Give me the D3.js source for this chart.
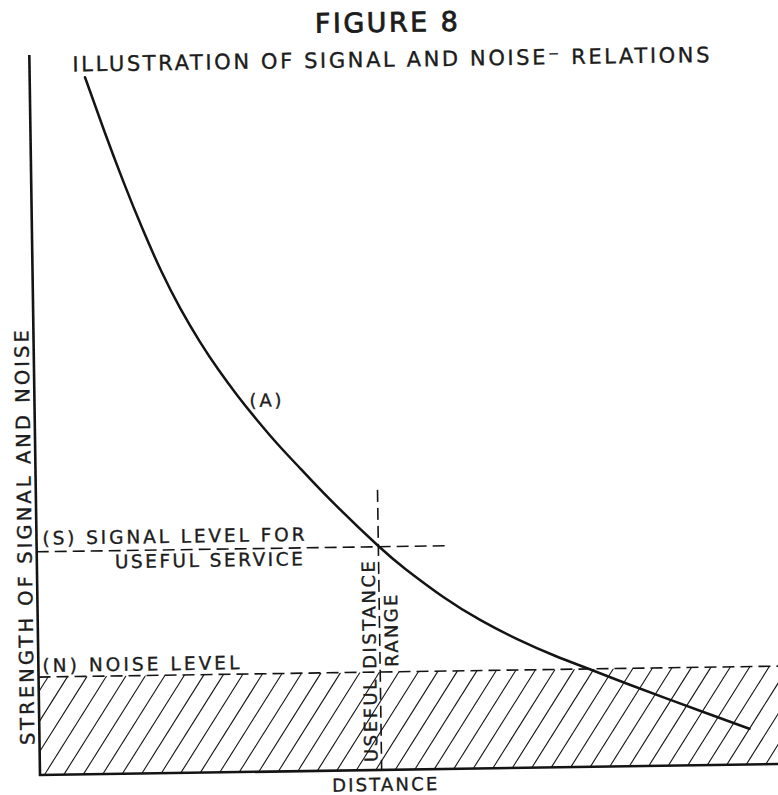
<!DOCTYPE html>
<html>
<head>
<meta charset="utf-8">
<script src="https://cdn.jsdelivr.net/npm/d3@7/dist/d3.min.js"></script>
<style>
  html, body { margin: 0; padding: 0; background: #fff; }
  svg { display: block; }
  text { font-family: "DejaVu Sans", sans-serif; fill: #1c1c1c; stroke: #1c1c1c; stroke-width: 0.35; }
</style>
</head>
<body>
<script>
// Signal strength (curve A) against distance, in arbitrary units 0..100
const distance = [7.5, 10, 12.5, 15, 17.5, 20, 22.5, 25, 27.5, 30, 33, 36, 40, 46.3, 50, 55, 60, 65, 70, 74.7, 80, 85, 90, 96.2];
const strength = [96.8, 89.3, 82.2, 75.6, 69.6, 64.4, 59.9, 55.9, 52.3, 49.0, 45.3, 41.9, 37.5, 31.1, 27.8, 23.9, 20.6, 17.85, 15.5, 13.55, 11.35, 9.35, 7.38, 4.96];

// Reference levels
const noiseLevel = 13.6;        // (N) noise level
const serviceLevel = 31.0;      // (S) signal level for useful service
const usefulRange = 46.3;       // distance where curve A meets level S
const serviceLineEnd = 56.0;    // dashed S line runs a little past the crossing
const rangeLineTop = 38.9;      // top of the vertical range marker

const W = 778, H = 795;
const svg = d3.select("body").append("svg").attr("width", W).attr("height", H);

const x = d3.scaleLinear().domain([0, 100]).range([40, 778]);
const y = d3.scaleLinear().domain([0, 100]).range([775, 55]);

// the whole drawing sits slightly tilted on the page
const g = svg.append("g").attr("transform", "rotate(-0.85, 40, 775)");

const ink = "#141414";

// hatched region below the noise level
const clipId = "noiseClip";
g.append("clipPath").attr("id", clipId)
  .append("rect")
  .attr("x", x(0)).attr("y", y(noiseLevel))
  .attr("width", x(100) - x(0) + 20).attr("height", y(0) - y(noiseLevel));

const hatchStep = 19.5, hatchRise = y(0) - y(noiseLevel), hatchRun = hatchRise * 0.65;
const hatchStarts = d3.range(x(0) - hatchRun - 10, x(100) + 30, hatchStep);
g.append("g").attr("clip-path", `url(#${clipId})`)
  .selectAll("line").data(hatchStarts).join("line")
  .attr("x1", d => d).attr("y1", y(0))
  .attr("x2", d => d + hatchRun).attr("y2", y(noiseLevel))
  .attr("stroke", ink).attr("stroke-width", 1.1);

// dashed reference lines
const dash = "12,6";
g.append("line")
  .attr("x1", x(0)).attr("x2", x(100) + 10)
  .attr("y1", y(noiseLevel)).attr("y2", y(noiseLevel))
  .attr("stroke", ink).attr("stroke-width", 1.6).attr("stroke-dasharray", dash);
g.append("line")
  .attr("x1", x(0)).attr("x2", x(serviceLineEnd))
  .attr("y1", y(serviceLevel)).attr("y2", y(serviceLevel))
  .attr("stroke", ink).attr("stroke-width", 1.6).attr("stroke-dasharray", dash);
g.append("line")
  .attr("x1", x(usefulRange)).attr("x2", x(usefulRange))
  .attr("y1", y(rangeLineTop)).attr("y2", y(0))
  .attr("stroke", ink).attr("stroke-width", 1.6).attr("stroke-dasharray", dash);

// axes
g.append("line").attr("x1", x(0)).attr("x2", x(0)).attr("y1", y(0) + 1).attr("y2", y(100))
  .attr("stroke", ink).attr("stroke-width", 2.6);
g.append("line").attr("x1", x(0) - 1).attr("x2", x(100) + 10).attr("y1", y(0)).attr("y2", y(0))
  .attr("stroke", ink).attr("stroke-width", 2.6);

// curve A
const pts = distance.map((d, i) => [d, strength[i]]);
const line = d3.line().x(d => x(d[0])).y(d => y(d[1])).curve(d3.curveNatural);
g.append("path").datum(pts).attr("d", line)
  .attr("fill", "none").attr("stroke", ink).attr("stroke-width", 2.5).attr("stroke-linecap", "round");

// lettering
function label(parent, txt, px, py, size, len, rot) {
  const t = parent.append("text").attr("x", px).attr("y", py)
    .attr("font-size", size).text(txt);
  if (len) t.attr("textLength", len).attr("lengthAdjust", "spacing");
  if (rot) t.attr("transform", `rotate(${rot}, ${px}, ${py})`);
  return t;
}

label(g, "FIGURE 8", 326, 37, 27, 143).style("stroke-width", 0.8);
label(g, "ILLUSTRATION OF SIGNAL AND NOISE\u207B RELATIONS", 83, 72, 21, 637);

label(g, "STRENGTH OF SIGNAL AND NOISE", 35, 745, 19.5, 415, -90);

label(g, "(S) SIGNAL LEVEL FOR", x(0) + 6, y(serviceLevel) - 7, 18.5, 262);
label(g, "USEFUL SERVICE", 118, y(serviceLevel) + 17.5, 18.5, 188);
label(g, "(N) NOISE LEVEL", x(0) + 4, y(noiseLevel) - 5, 18.5, 197);
label(g, "(A)", 255, 410, 18, 32);
label(g, "DISTANCE", 332, 796, 18, 105);

label(g, "USEFUL DISTANCE", x(usefulRange) - 4, 767, 18, 201, -90);
label(g, "RANGE", x(usefulRange) + 18, 672, 18, 72, -90);
</script>
</body>
</html>
